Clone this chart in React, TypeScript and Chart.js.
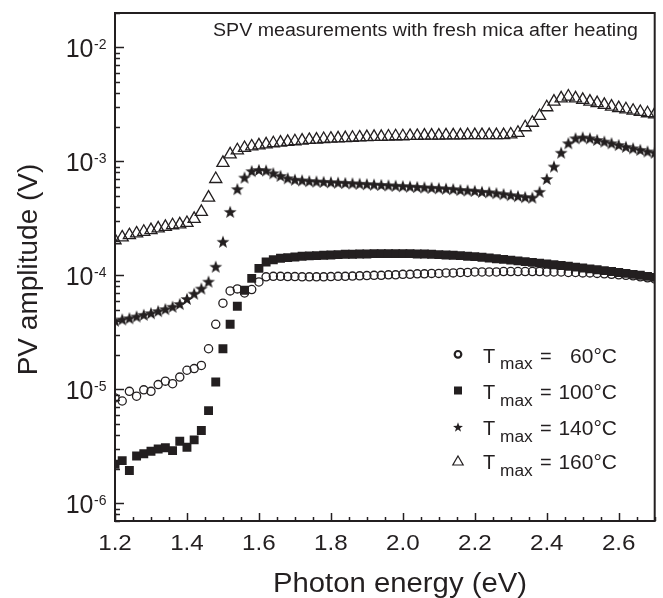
import React, { useEffect, useRef } from "react";
import { Chart, registerables } from "chart.js";

Chart.register(...registerables);

// Photon energy grid (eV)
const ENERGY = [
  1.2, 1.22, 1.24, 1.26, 1.28, 1.3, 1.32, 1.34, 1.36, 1.38,
  1.4, 1.42, 1.44, 1.46, 1.48, 1.5, 1.52, 1.54, 1.56, 1.58,
  1.6, 1.62, 1.64, 1.66, 1.68, 1.7, 1.72, 1.74, 1.76, 1.78,
  1.8, 1.82, 1.84, 1.86, 1.88, 1.9, 1.92, 1.94, 1.96, 1.98,
  2.0, 2.02, 2.04, 2.06, 2.08, 2.1, 2.12, 2.14, 2.16, 2.18,
  2.2, 2.22, 2.24, 2.26, 2.28, 2.3, 2.32, 2.34, 2.36, 2.38,
  2.4, 2.42, 2.44, 2.46, 2.48, 2.5, 2.52, 2.54, 2.56, 2.58,
  2.6, 2.62, 2.64, 2.66, 2.68, 2.7,
];

// PV amplitude (V), Tmax = 60 °C (open circles)
const PV_60 = [
  8.4e-6, 7.9e-6, 9.6e-6, 8.7e-6, 9.9e-6, 9.6e-6, 1.1e-5, 1.18e-5, 1.12e-5, 1.28e-5,
  1.47e-5, 1.52e-5, 1.62e-5, 2.27e-5, 3.72e-5, 5.7e-5, 7.3e-5, 7.6e-5, 7.0e-5, 7.5e-5,
  8.75e-5, 9.7e-5, 9.8e-5, 9.8e-5, 9.75e-5, 9.75e-5, 9.7e-5, 9.7e-5, 9.7e-5, 9.7e-5,
  9.75e-5, 9.8e-5, 9.8e-5, 9.85e-5, 9.9e-5, 9.95e-5, 1.0e-4, 1.0e-4, 1.01e-4, 1.01e-4,
  1.02e-4, 1.02e-4, 1.03e-4, 1.03e-4, 1.04e-4, 1.04e-4, 1.05e-4, 1.05e-4, 1.06e-4, 1.06e-4,
  1.07e-4, 1.07e-4, 1.07e-4, 1.07e-4, 1.08e-4, 1.08e-4, 1.08e-4, 1.08e-4, 1.08e-4, 1.08e-4,
  1.07e-4, 1.07e-4, 1.07e-4, 1.06e-4, 1.06e-4, 1.05e-4, 1.05e-4, 1.04e-4, 1.03e-4, 1.02e-4,
  1.01e-4, 1.0e-4, 9.9e-5, 9.7e-5, 9.5e-5, 9.3e-5,
];

// Tmax = 100 °C (filled squares)
const PV_100 = [
  2.2e-6, 2.37e-6, 1.94e-6, 2.6e-6, 2.72e-6, 2.86e-6, 3.0e-6, 3.07e-6, 2.9e-6, 3.5e-6,
  3.1e-6, 3.6e-6, 4.35e-6, 6.5e-6, 1.16e-5, 2.27e-5, 3.72e-5, 5.35e-5, 7.4e-5, 9.4e-5,
  1.15e-4, 1.31e-4, 1.37e-4, 1.41e-4, 1.43e-4, 1.45e-4, 1.47e-4, 1.48e-4, 1.49e-4, 1.5e-4,
  1.51e-4, 1.52e-4, 1.53e-4, 1.53e-4, 1.54e-4, 1.54e-4, 1.55e-4, 1.55e-4, 1.55e-4, 1.55e-4,
  1.55e-4, 1.55e-4, 1.54e-4, 1.54e-4, 1.53e-4, 1.52e-4, 1.51e-4, 1.5e-4, 1.49e-4, 1.47e-4,
  1.46e-4, 1.44e-4, 1.42e-4, 1.4e-4, 1.38e-4, 1.36e-4, 1.34e-4, 1.32e-4, 1.3e-4, 1.28e-4,
  1.26e-4, 1.24e-4, 1.22e-4, 1.2e-4, 1.18e-4, 1.16e-4, 1.14e-4, 1.12e-4, 1.1e-4, 1.08e-4,
  1.06e-4, 1.04e-4, 1.02e-4, 1.0e-4, 9.8e-5, 9.6e-5,
];

// Tmax = 140 °C (filled stars)
const PV_140 = [
  4.0e-5, 4.1e-5, 4.2e-5, 4.35e-5, 4.5e-5, 4.65e-5, 4.85e-5, 5.05e-5, 5.3e-5, 5.6e-5,
  6.2e-5, 6.9e-5, 7.65e-5, 8.8e-5, 1.19e-4, 1.97e-4, 3.6e-4, 5.7e-4, 7.2e-4, 8.2e-4,
  8.4e-4, 8.3e-4, 7.85e-4, 7.45e-4, 7.1e-4, 6.9e-4, 6.8e-4, 6.7e-4, 6.65e-4, 6.6e-4,
  6.55e-4, 6.5e-4, 6.45e-4, 6.4e-4, 6.35e-4, 6.3e-4, 6.25e-4, 6.2e-4, 6.15e-4, 6.1e-4,
  6.05e-4, 6.0e-4, 5.95e-4, 5.9e-4, 5.85e-4, 5.8e-4, 5.75e-4, 5.7e-4, 5.6e-4, 5.55e-4,
  5.5e-4, 5.4e-4, 5.35e-4, 5.25e-4, 5.15e-4, 5.05e-4, 4.95e-4, 4.85e-4, 4.8e-4, 5.4e-4,
  7.0e-4, 9.0e-4, 1.19e-3, 1.44e-3, 1.59e-3, 1.62e-3, 1.59e-3, 1.54e-3, 1.49e-3, 1.44e-3,
  1.39e-3, 1.34e-3, 1.3e-3, 1.26e-3, 1.22e-3, 1.19e-3,
];

// Tmax = 160 °C (open triangles)
const PV_160 = [
  2.03e-4, 2.15e-4, 2.25e-4, 2.33e-4, 2.41e-4, 2.49e-4, 2.58e-4, 2.66e-4, 2.75e-4, 2.8e-4,
  2.88e-4, 3.13e-4, 3.6e-4, 4.8e-4, 7.0e-4, 9.7e-4, 1.15e-3, 1.25e-3, 1.31e-3, 1.35e-3,
  1.38e-3, 1.41e-3, 1.44e-3, 1.46e-3, 1.48e-3, 1.5e-3, 1.52e-3, 1.54e-3, 1.55e-3, 1.57e-3,
  1.58e-3, 1.59e-3, 1.6e-3, 1.61e-3, 1.62e-3, 1.63e-3, 1.64e-3, 1.64e-3, 1.65e-3, 1.66e-3,
  1.66e-3, 1.67e-3, 1.67e-3, 1.68e-3, 1.68e-3, 1.68e-3, 1.69e-3, 1.69e-3, 1.69e-3, 1.7e-3,
  1.7e-3, 1.7e-3, 1.7e-3, 1.7e-3, 1.7e-3, 1.72e-3, 1.78e-3, 1.99e-3, 2.18e-3, 2.5e-3,
  2.98e-3, 3.34e-3, 3.57e-3, 3.7e-3, 3.57e-3, 3.46e-3, 3.34e-3, 3.24e-3, 3.13e-3, 3.02e-3,
  2.93e-3, 2.86e-3, 2.78e-3, 2.71e-3, 2.64e-3, 2.58e-3,
];

const LEGEND_TEMPS = ["60°C", "100°C", "140°C", "160°C"];
const X_TICKS = [1.2, 1.4, 1.6, 1.8, 2.0, 2.2, 2.4, 2.6];
const Y_DECADES = [-6, -5, -4, -3, -2];
const TITLE = "SPV measurements with fresh mica after heating";
const X_TITLE = "Photon energy (eV)";
const Y_TITLE = "PV amplitude (V)";

const INK = "#231f20";
const FONT = '"Liberation Sans", Arial, Helvetica, sans-serif';

function drawStarPath(ctx: CanvasRenderingContext2D, cx: number, cy: number, ro: number, ri: number) {
  ctx.beginPath();
  for (let i = 0; i < 10; i++) {
    const r = i % 2 === 0 ? ro : ri;
    const a = -Math.PI / 2 + (i * Math.PI) / 5;
    const px = cx + r * Math.cos(a);
    const py = cy + r * Math.sin(a);
    if (i === 0) ctx.moveTo(px, py);
    else ctx.lineTo(px, py);
  }
  ctx.closePath();
}

function makeStar(size: number, ro: number, ri: number) {
  const c = document.createElement("canvas");
  c.width = size;
  c.height = size;
  const g = c.getContext("2d")!;
  g.fillStyle = INK;
  drawStarPath(g, size / 2, size / 2 + 0.5, ro, ri);
  g.fill();
  return c;
}

function text(
  ctx: CanvasRenderingContext2D,
  s: string,
  x: number,
  y: number,
  size: number,
  align: CanvasTextAlign = "left",
  sx = 1
) {
  ctx.save();
  ctx.font = `${size}px ${FONT}`;
  ctx.textAlign = align;
  ctx.textBaseline = "alphabetic";
  ctx.fillStyle = INK;
  ctx.translate(x, y);
  ctx.scale(sx, 1);
  ctx.fillText(s, 0, 0);
  ctx.restore();
}

function fitText(ctx: CanvasRenderingContext2D, s: string, left: number, right: number, y: number, size: number) {
  ctx.save();
  ctx.font = `${size}px ${FONT}`;
  const w = ctx.measureText(s).width;
  ctx.restore();
  text(ctx, s, left, y, size, "left", (right - left) / w);
}

const decorPlugin = {
  id: "decor",
  afterDraw(chart: any) {
    const ctx: CanvasRenderingContext2D = chart.ctx;
    const a = chart.chartArea;
    const xs = chart.scales.x;
    const ys = chart.scales.y;
    ctx.save();
    ctx.strokeStyle = INK;
    ctx.fillStyle = INK;

    // frame
    ctx.lineWidth = 2;
    ctx.strokeRect(a.left, a.top, a.right - a.left, a.bottom - a.top);

    // x ticks (inward)
    ctx.lineWidth = 1.5;
    for (let k = 0; k <= 30; k++) {
      const v = 1.2 + k * 0.05;
      const px = Math.round(xs.getPixelForValue(v)) + 0.5;
      const major = k % 4 === 0;
      ctx.beginPath();
      ctx.moveTo(px, a.bottom);
      ctx.lineTo(px, a.bottom - (major ? 8 : 4));
      ctx.stroke();
    }
    X_TICKS.forEach((v) => {
      text(ctx, v.toFixed(1), xs.getPixelForValue(v), 550, 22, "center", 1.1);
    });

    // y ticks (inward)
    const yMin = ys.min;
    const yMax = ys.max;
    for (let d = -7; d <= -2; d++) {
      for (let m = 1; m <= 9; m++) {
        const v = m * Math.pow(10, d);
        if (v < yMin || v > yMax) continue;
        const py = Math.round(ys.getPixelForValue(v)) + 0.5;
        ctx.beginPath();
        ctx.moveTo(a.left, py);
        ctx.lineTo(a.left + (m === 1 ? 9 : 5), py);
        ctx.stroke();
      }
    }
    Y_DECADES.forEach((d) => {
      const py = ys.getPixelForValue(Math.pow(10, d));
      text(ctx, "10", 93.5, py + 10, 25, "right");
      text(ctx, String(d), 94, py + 2, 14, "left");
    });

    // titles
    fitText(ctx, TITLE, 213, 638, 36, 18);
    fitText(ctx, X_TITLE, 273, 527, 592, 27);
    ctx.save();
    ctx.translate(37, 269.5);
    ctx.rotate(-Math.PI / 2);
    ctx.font = `28px ${FONT}`;
    ctx.textAlign = "center";
    ctx.textBaseline = "alphabetic";
    ctx.fillStyle = INK;
    ctx.fillText(Y_TITLE, 0, 0);
    ctx.restore();

    // legend
    const rows = [354.3, 390.5, 427, 461];
    const mx = 458;
    rows.forEach((cy, i) => {
      ctx.save();
      ctx.strokeStyle = INK;
      ctx.fillStyle = INK;
      if (i === 0) {
        ctx.lineWidth = 2.2;
        ctx.beginPath();
        ctx.arc(mx, cy, 3.3, 0, Math.PI * 2);
        ctx.stroke();
      } else if (i === 1) {
        ctx.fillRect(mx - 4, cy - 4, 8, 8);
      } else if (i === 2) {
        drawStarPath(ctx, mx, cy + 0.5, 5.2, 2.1);
        ctx.fill();
      } else {
        ctx.lineWidth = 1.2;
        ctx.beginPath();
        const r = 6;
        for (let k = 0; k < 3; k++) {
          const ang = (k * 2 * Math.PI) / 3;
          const px = mx + Math.sin(ang) * r;
          const py = cy - Math.cos(ang) * r + 1;
          if (k === 0) ctx.moveTo(px, py);
          else ctx.lineTo(px, py);
        }
        ctx.closePath();
        ctx.stroke();
      }
      ctx.restore();
      const base = cy + 8.4;
      text(ctx, "T", 483, base, 20);
      text(ctx, "max", 500, base + 6.6, 16, "left", 1.08);
      text(ctx, "=", 540, base, 20);
      text(ctx, LEGEND_TEMPS[i], 617, base, 20, "right", 1.05);
    });

    ctx.restore();
  },
};

export default function App() {
  const ref = useRef<HTMLCanvasElement | null>(null);

  useEffect(() => {
    document.body.style.margin = "0";
    const canvas = ref.current!;
    const star = makeStar(16, 6.8, 2.8);
    const pts = (arr: number[]) => ENERGY.map((x, i) => ({ x, y: arr[i] }));
    const chart = new Chart(canvas, {
      type: "scatter",
      data: {
        datasets: [
          {
            label: "Tmax = 160°C",
            data: pts(PV_160),
            pointStyle: "triangle",
            pointRadius: 7,
            borderWidth: 1.3,
            borderColor: INK,
            backgroundColor: "rgba(0,0,0,0)",
          },
          {
            label: "Tmax = 140°C",
            data: pts(PV_140),
            pointStyle: star as any,
            pointRadius: 7,
            borderColor: INK,
            backgroundColor: INK,
          },
          {
            label: "Tmax = 100°C",
            data: pts(PV_100),
            pointStyle: "rect",
            pointRadius: 6.3,
            borderWidth: 0,
            borderColor: INK,
            backgroundColor: INK,
          },
          {
            label: "Tmax = 60°C",
            data: pts(PV_60),
            pointStyle: "circle",
            pointRadius: 4.1,
            borderWidth: 1.3,
            borderColor: INK,
            backgroundColor: "rgba(0,0,0,0)",
          },
        ],
      },
      options: {
        animation: false,
        responsive: false,
        events: [],
        layout: { padding: { left: 115, top: 13, right: 1, bottom: 77 } },
        plugins: { legend: { display: false }, tooltip: { enabled: false } },
        scales: {
          x: { type: "linear", min: 1.2, max: 2.7, display: false },
          y: { type: "logarithmic", min: 7e-7, max: 0.02, display: false },
        },
      },
      plugins: [decorPlugin],
    });
    return () => chart.destroy();
  }, []);

  return (
    <div style={{ width: 663, height: 598, background: "#fff" }}>
      <canvas ref={ref} width={663} height={598} style={{ display: "block" }} />
    </div>
  );
}
